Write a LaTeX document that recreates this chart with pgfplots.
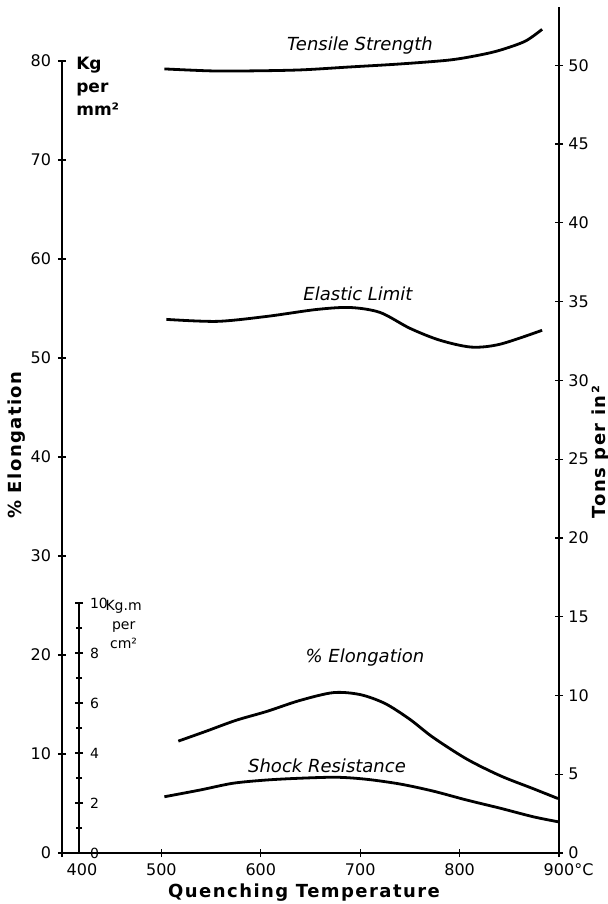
\documentclass[border=0pt]{standalone}
\usepackage{fontspec}
\setmainfont{DejaVu Sans}
\usepackage{pgfplots}
\pgfplotsset{compat=1.18}
\begin{document}
\begin{tikzpicture}
\pgfplotsset{every axis/.append style={scale only axis, width=248.5pt, xmin=400, xmax=900, clip=false,
  tick align=center, major tick length=4pt, minor tick length=3pt,
  axis line style={line width=0.9pt}, every tick/.style={line width=0.6pt, black},
  /pgf/number format/assume math mode=true,
  tick label style={font=\fontsize{8}{9}\selectfont}}}
\tikzset{curve/.style={line width=1.4pt, smooth, tension=0.5, no marks, black},
  lab/.style={font=\fontsize{9}{10}\selectfont\itshape}}
% main (Kg per mm2 / % elongation)
\begin{axis}[height=396pt, ymin=0, ymax=80, axis x line*=bottom, axis y line*=left,
  xtick={400,500,600,700,800,900},
  xticklabels={\hspace*{20pt}400,500,600,700,800,900\rlap{°C}},
  ytick={0,10,...,80}]
% Tensile Strength
\addplot[curve] coordinates {(503,79.2) (550,79.0) (589,79.0) (640,79.1) (690,79.4) (740,79.7) (790,80.1) (820,80.6) (841,81.1) (866,82.0) (883,83.2)};
% Elastic Limit
\addplot[curve] coordinates {(505,53.9) (556,53.7) (606,54.2) (656,54.9) (690,55.1) (720,54.6) (750,53.0) (780,51.8) (812,51.1) (841,51.4) (883,52.8)};
% % Elongation
\addplot[curve] coordinates {(517,11.3) (545,12.3) (575,13.4) (606,14.3) (639,15.4) (673,16.2) (700,16.0) (725,15.1) (750,13.5) (773,11.7) (807,9.5) (841,7.8) (874,6.5) (899,5.5)};
\node[lab] at (axis cs:699.8,81.6) {Tensile Strength};
\node[lab] at (axis cs:697.8,56.5) {Elastic Limit};
\node[lab] at (axis cs:704.8,19.7) {\% Elongation};
\node[lab] at (axis cs:666.6,8.8) {Shock Resistance};
\node[anchor=north west, align=left, font=\fontsize{8.5}{11.5}\selectfont\bfseries, inner sep=0pt] at (axis cs:414,80.4) {Kg\\per\\mm²};
\node[anchor=north, align=center, font=\fontsize{7}{9.5}\selectfont, inner sep=0pt] at (axis cs:462,25.6) {Kg.m\\per\\cm²};
\node[rotate=90, font=\fontsize{9}{10}\selectfont\bfseries\addfontfeatures{LetterSpace=8}] at (axis cs:354.7,41.2) {\% Elongation};
\node[rotate=90, font=\fontsize{9}{10}\selectfont\bfseries\addfontfeatures{LetterSpace=8}] at (axis cs:941.5,40.5) {Tons per in²};
\node[anchor=base, font=\fontsize{9}{10}\selectfont\bfseries\addfontfeatures{LetterSpace=8}] at (axis cs:643.5,-4.5) {Quenching Temperature};
\end{axis}
% right axis (Tons per in2)
\begin{axis}[height=423pt, ymin=0, ymax=53.7, axis y line*=right, axis x line=none,
  ytick={0,5,...,50}, yticklabel style={inner sep=1pt, xshift=1.5pt}]
\end{axis}
% shock resistance data (Kg.m per cm2)
\begin{axis}[height=125pt, ymin=0, ymax=10, hide axis]
\addplot[curve] coordinates {(503,2.25) (539,2.52) (572,2.79) (606,2.92) (639,2.99) (676,3.03) (706,2.95) (740,2.76) (773,2.48) (807,2.12) (841,1.79) (874,1.45) (899,1.25)};
\end{axis}
% inner scale
\begin{axis}[width=8.5pt, xmin=0, xmax=1, height=125pt, ymin=0, ymax=10,
  axis y line*=right, axis x line=none,
  ytick={0,2,...,10}, minor ytick={1,3,...,9},
  tick label style={font=\fontsize{7}{8}\selectfont}]
\end{axis}
\pgfresetboundingbox
\path[use as bounding box] (-31pt,-25.5pt) rectangle (273pt,426.5pt);
\end{tikzpicture}
\end{document}
